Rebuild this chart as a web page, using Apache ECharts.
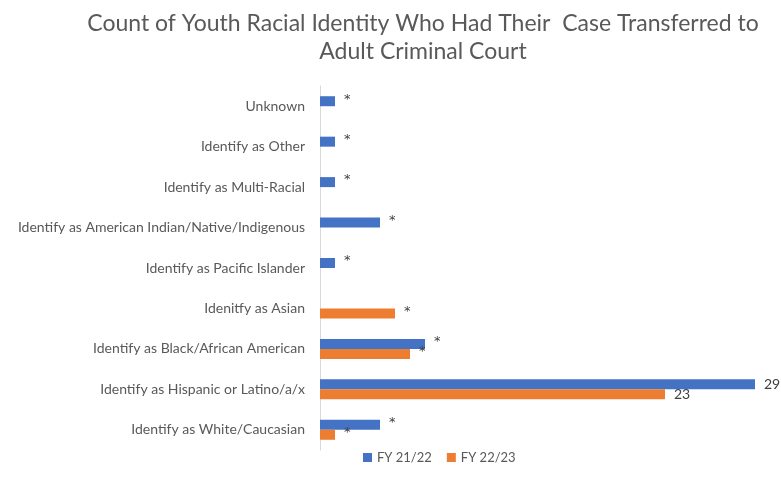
<!DOCTYPE html>
<html>
<head>
<meta charset="utf-8">
<script src="https://cdn.jsdelivr.net/npm/echarts@6/dist/echarts.min.js"></script>
<style>
  html, body { margin: 0; padding: 0; background: #fff; }
  #chart { width: 781px; height: 494px; }
</style>
</head>
<body>
<div id="chart"></div>
<script>
const categories = [
  "Unknown",
  "Identify as Other",
  "Identify as Multi-Racial",
  "Identify as American Indian/Native/Indigenous",
  "Identify as Pacific Islander",
  "Idenitfy as Asian",
  "Identify as Black/African American",
  "Identify as Hispanic or Latino/a/x",
  "Identify as White/Caucasian",
];
const fy2122 = [1, 1, 1, 4, 1, 0, 7, 29, 4];
const fy2223 = [0, 0, 0, 0, 0, 5, 6, 23, 1];

// counts under 10 are shown as "*"
const labelText = (p) => (p.value === 0 ? "" : p.value < 10 ? "{s|*}" : String(p.value));

const chart = echarts.init(document.getElementById("chart"));

const barLabel = {
  show: true,
  position: "right",
  distance: 9,
  color: "#404040",
  fontFamily: "Lato",
  fontSize: 14,
  formatter: labelText,
  rich: {
    s: { fontSize: 13, fontFamily: "DejaVu Sans", color: "#404040", padding: [0, 0, 4, 0] },
  },
};

chart.setOption({
  animation: false,
  textStyle: { fontFamily: "Lato" },
  title: {
    text: "Count of Youth Racial Identity Who Had Their  Case Transferred to\nAdult Criminal Court",
    left: 418,
    top: 5,
    textAlign: "center",
    textStyle: {
      fontFamily: "Lato",
      fontSize: 23,
      fontWeight: "normal",
      color: "#595959",
      lineHeight: 28,
    },
  },
  legend: {
    top: 446,
    left: 358,
    itemWidth: 9,
    itemHeight: 9,
    itemGap: 15,
    icon: "rect",
    textStyle: { color: "#595959", fontSize: 13, fontFamily: "Lato" },
    data: ["FY 21/22", "FY 22/23"],
  },
  grid: {
    left: 320,
    right: 26,
    top: 86,
    bottom: 44,
  },
  xAxis: {
    type: "value",
    min: 0,
    max: 29,
    show: false,
    splitLine: { show: false },
  },
  yAxis: {
    type: "category",
    inverse: true,
    data: categories,
    axisTick: { show: false },
    axisLine: { lineStyle: { color: "#d9d9d9" } },
    axisLabel: {
      color: "#595959",
      fontSize: 14,
      fontFamily: "Lato",
      margin: 15,
    },
  },
  series: [
    {
      name: "FY 21/22",
      type: "bar",
      data: fy2122,
      barWidth: 10,
      barGap: "0%",
      itemStyle: { color: "#4472C4" },
      label: barLabel,
    },
    {
      name: "FY 22/23",
      type: "bar",
      data: fy2223,
      barWidth: 10,
      barGap: "0%",
      itemStyle: { color: "#ED7D31" },
      label: barLabel,
    },
  ],
});
</script>
</body>
</html>
